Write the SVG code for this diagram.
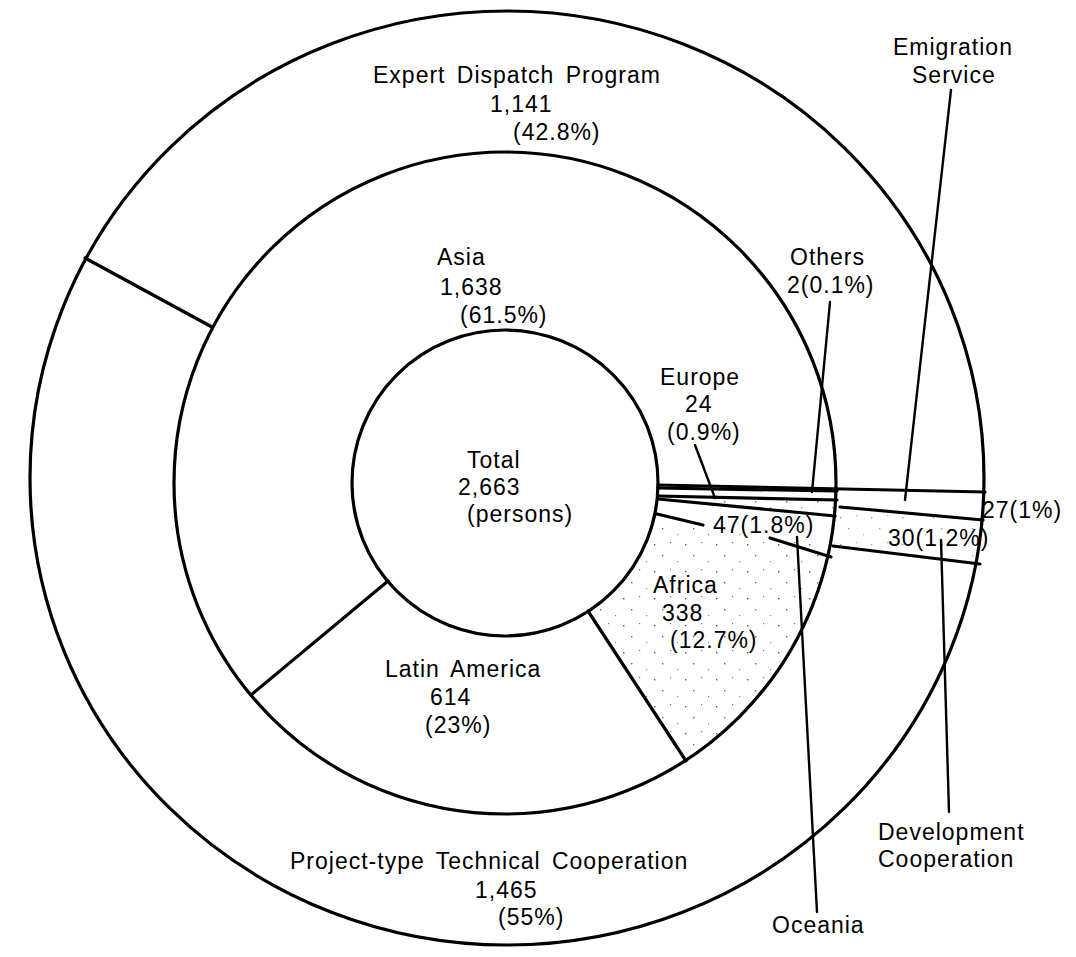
<svg xmlns="http://www.w3.org/2000/svg" width="1076" height="957" viewBox="0 0 1076 957">
<defs>
<pattern id="dots" width="31" height="27" patternUnits="userSpaceOnUse">
<rect x="3" y="4" width="1.4" height="1.4" fill="#555"/>
<rect x="19" y="2" width="1.2" height="1.2" fill="#777"/>
<rect x="11" y="15" width="1.4" height="1.4" fill="#666"/>
<rect x="26" y="21" width="1.2" height="1.2" fill="#888"/>
</pattern>
<style>
.ring{fill:none;stroke:#000;stroke-width:3.2}
.ln{stroke:#000;stroke-width:3.2;fill:none;stroke-linecap:round}
.ld{stroke:#000;stroke-width:2.4;fill:none;stroke-linecap:round}
text{font-family:'Liberation Sans',Arial,sans-serif;font-size:23px;letter-spacing:1px;word-spacing:4px;fill:#000}
</style>
</defs>
<rect width="1076" height="957" fill="#fff"/>
<g id="stipple">
<path d="M655,513 L831,548 A332,332 0 0 1 686,761 L588,611 A153,153 0 0 0 655,513 Z" fill="url(#dots)"/>
<path d="M660,497 L837,501 L835,516 L660,499 Z" fill="url(#dots)"/>
<path d="M840,507 L983,520 L980,564 L833,548 Z" fill="url(#dots)" opacity="0.6"/>
</g>
<g id="rings">
<ellipse class="ring" cx="507" cy="478" rx="477" ry="467"/>
<circle class="ring" cx="505" cy="483" r="331"/>
<circle class="ring" cx="505" cy="483" r="153"/>
</g>
<g id="connectors">
<line class="ln" x1="658" y1="485" x2="985" y2="492"/>
<line class="ln" x1="658" y1="488" x2="837" y2="491"/>
<line class="ln" x1="658" y1="496" x2="837" y2="500"/>
<line class="ln" x1="658" y1="499" x2="835" y2="516"/>
<line class="ln" x1="657" y1="514" x2="703" y2="525"/>
<line class="ln" x1="770" y1="538" x2="831" y2="557"/>
<line class="ln" x1="840" y1="507" x2="983" y2="520"/>
<line class="ln" x1="833" y1="546" x2="980" y2="564"/>
<line class="ln" x1="588" y1="611" x2="686" y2="761"/>
<line class="ln" x1="388" y1="581" x2="251" y2="695"/>
<line class="ln" x1="85" y1="258" x2="212" y2="327"/>
<line class="ld" x1="830" y1="302" x2="812" y2="492"/>
<line class="ld" x1="695" y1="445" x2="715" y2="498"/>
<line class="ld" x1="951" y1="90" x2="905" y2="500"/>
<line class="ld" x1="941" y1="540" x2="949" y2="812"/>
<line class="ld" x1="797" y1="537" x2="817" y2="912"/>
</g>
<g id="expert"><text x="373" y="83">Expert Dispatch Program</text><text x="490" y="112">1,141</text><text x="513" y="140">(42.8%)</text></g>
<g id="project"><text x="290" y="869">Project-type Technical Cooperation</text><text x="475" y="898">1,465</text><text x="498" y="925">(55%)</text></g>
<g id="emigration"><text x="893" y="55">Emigration</text><text x="912" y="83">Service</text><text x="982" y="518">27(1%)</text></g>
<g id="development"><text x="878" y="840">Development</text><text x="878" y="867">Cooperation</text><text x="888" y="546">30(1.2%)</text></g>
<g id="asia"><text x="437" y="265">Asia</text><text x="440" y="295">1,638</text><text x="460" y="323">(61.5%)</text></g>
<g id="others"><text x="790" y="265">Others</text><text x="787" y="293">2(0.1%)</text></g>
<g id="europe"><text x="660" y="385">Europe</text><text x="685" y="412">24</text><text x="667" y="440">(0.9%)</text></g>
<g id="total"><text x="467" y="468">Total</text><text x="458" y="495">2,663</text><text x="467" y="522">(persons)</text></g>
<g id="oceania"><text x="713" y="533">47(1.8%)</text><text x="772" y="933">Oceania</text></g>
<g id="africa"><text x="653" y="593">Africa</text><text x="662" y="621">338</text><text x="670" y="648">(12.7%)</text></g>
<g id="latin"><text x="385" y="677">Latin America</text><text x="430" y="705">614</text><text x="425" y="733">(23%)</text></g>
</svg>
